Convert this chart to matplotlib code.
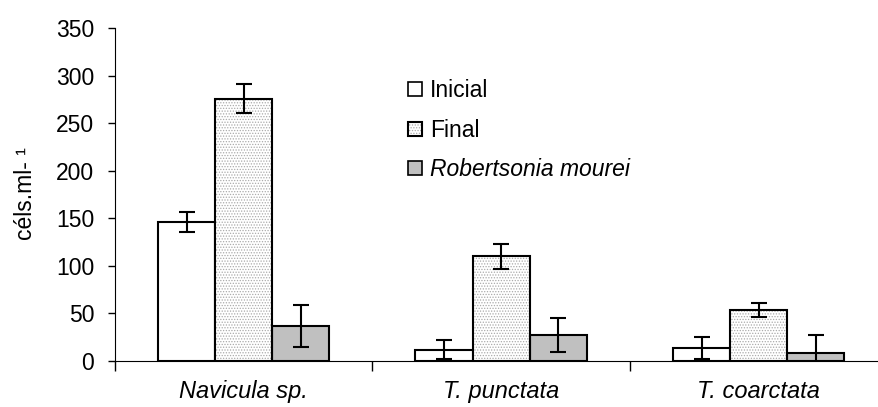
import matplotlib
matplotlib.use('Agg')
import matplotlib.pyplot as plt
import numpy as np

plt.rcParams['font.family'] = ['Liberation Sans', 'DejaVu Sans']
plt.rcParams['hatch.linewidth'] = 0.6

# data
species = ['Navicula sp.', 'T. punctata', 'T. coarctata']
inicial = [146, 12, 14]
inicial_err = [10.5, 10, 11.5]
final = [276, 110, 54]
final_err = [15, 13, 7.5]
robertsonia = [37, 27, 8]
robertsonia_err = [22, 18, 19]

fs = 16.5

fig = plt.figure(figsize=(8.79, 4.07), dpi=100)
ax = fig.add_axes([0.1308, 0.1130, 0.8788, 0.8175])

x = np.arange(len(species)) + 0.5
w = 0.222
lw = 1.5

b1 = ax.bar(x - w, inicial, w, color='white', edgecolor='black', linewidth=lw, zorder=2)
# dotted fill for Final: hatch layer first, black outline on top
b2h = ax.bar(x, final, w, color='white', edgecolor='#aaaaaa', hatch='......', linewidth=0, zorder=2)
b2 = ax.bar(x, final, w, color='none', edgecolor='black', linewidth=lw, zorder=3)
b3 = ax.bar(x + w, robertsonia, w, color='#c0c0c0', edgecolor='black', linewidth=lw, zorder=2)

for xs, ys, es in [(x - w, inicial, inicial_err), (x, final, final_err), (x + w, robertsonia, robertsonia_err)]:
    ax.errorbar(xs, ys, yerr=es, fmt='none', ecolor='black', elinewidth=1.5,
                capsize=5.5, capthick=1.5, zorder=4)

ax.set_ylim(0, 350)
ax.set_xlim(0, 3)
ax.set_yticks(range(0, 351, 50))
ax.tick_params(axis='y', length=5, width=1, pad=10, labelsize=fs)
ax.set_xticks([0, 1, 2, 3])
ax.set_xticklabels([])
ax.set_xticks(x, minor=True)
ax.set_xticklabels(species, minor=True, fontsize=17, style='italic')
ax.tick_params(axis='x', which='major', length=7, width=1)
ax.tick_params(axis='x', which='minor', length=0, pad=13.5)
for s in ['top', 'right']:
    ax.spines[s].set_visible(False)

fig.text(26 / 879, 1 - 194 / 407, 'céls.ml- ¹', rotation=90, ha='center', va='center', fontsize=fs)

leg = ax.legend([b1, (b2h, b2), b3], ['Inicial', 'Final', 'Robertsonia mourei'],
                loc='upper left', bbox_to_anchor=(408 / 879, 1 - 79 / 407),
                bbox_transform=fig.transFigure, frameon=False, fontsize=fs,
                handlelength=0.6, handleheight=0.55, handletextpad=0.35,
                labelspacing=0.73, borderpad=0, borderaxespad=0)
for h in leg.legend_handles:
    try:
        h.set_linewidth(1.2)
    except Exception:
        pass
leg.get_texts()[2].set_style('italic')

plt.savefig('out.png', dpi=100)
